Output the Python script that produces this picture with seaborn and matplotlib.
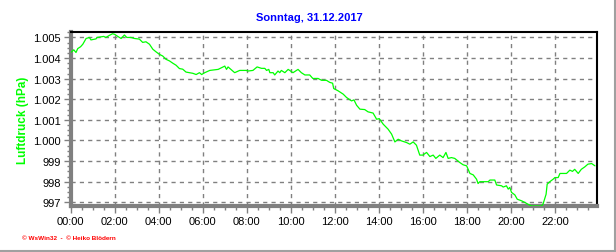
import matplotlib
matplotlib.use("Agg")
import matplotlib.pyplot as plt
from matplotlib.ticker import MultipleLocator, FixedLocator
from matplotlib.lines import Line2D
import seaborn as sns
import pandas as pd

hours = [0.0, 0.14, 0.24, 0.32, 0.45, 0.55, 0.70, 0.85, 0.92, 1.15, 1.20, 1.50, 1.60, 1.68, 1.76,
         1.90, 2.00, 2.14, 2.29, 2.44, 2.55, 2.74, 2.90, 3.12, 3.27, 3.42, 3.58, 3.73, 3.88, 4.03,
         4.18, 4.33, 4.49, 4.64, 4.79, 4.94, 5.09, 5.24, 5.39, 5.55, 5.70, 5.85, 5.95, 6.09, 6.32,
         6.70, 6.85, 7.00, 7.08, 7.15, 7.45, 7.68, 7.98, 8.05, 8.28, 8.47, 8.67, 8.82, 8.90, 9.00,
         9.05, 9.20, 9.27, 9.42, 9.50, 9.57, 9.73, 9.88, 9.95, 10.10, 10.33, 10.48, 10.64, 10.86,
         11.00, 11.24, 11.40, 11.62, 11.77, 11.90, 11.95, 12.15, 12.38, 12.53, 12.76, 12.87, 12.99,
         13.14, 13.36, 13.51, 13.74, 13.90, 14.02, 14.20, 14.42, 14.58, 14.73, 14.88, 15.03, 15.26,
         15.41, 15.56, 15.71, 15.86, 16.00, 16.17, 16.32, 16.47, 16.59, 16.77, 16.92, 17.05, 17.15,
         17.30, 17.45, 17.68, 17.83, 17.99, 18.14, 18.29, 18.44, 18.51, 18.59, 18.97, 19.05, 19.27,
         19.35, 19.58, 19.65, 19.80, 19.88, 19.95, 20.03, 20.18, 20.29, 20.49, 20.64, 20.79, 20.94,
         21.40, 21.47, 21.60, 21.65, 21.77, 21.92, 22.00, 22.15, 22.23, 22.53, 22.68, 22.80, 22.90,
         23.06, 23.20, 23.36, 23.50, 23.67, 23.82]
pressure = [1004.27, 1004.40, 1004.27, 1004.46, 1004.55, 1004.67, 1004.95, 1005.00, 1004.88, 1004.93,
            1005.00, 1005.05, 1005.00, 1005.05, 1005.10, 1005.18, 1005.15, 1005.05, 1004.95, 1005.12,
            1005.00, 1005.00, 1004.95, 1004.92, 1004.76, 1004.79, 1004.67, 1004.43, 1004.30, 1004.18,
            1004.10, 1003.94, 1003.86, 1003.75, 1003.65, 1003.49, 1003.46, 1003.32, 1003.29, 1003.26,
            1003.20, 1003.29, 1003.20, 1003.29, 1003.40, 1003.45, 1003.53, 1003.61, 1003.45, 1003.57,
            1003.29, 1003.40, 1003.40, 1003.37, 1003.40, 1003.57, 1003.50, 1003.50, 1003.40, 1003.45,
            1003.29, 1003.29, 1003.18, 1003.37, 1003.29, 1003.40, 1003.29, 1003.45, 1003.40, 1003.29,
            1003.45, 1003.29, 1003.18, 1003.18, 1003.01, 1003.01, 1002.92, 1002.92, 1002.82, 1002.78,
            1002.52, 1002.41, 1002.25, 1002.09, 1001.92, 1001.97, 1001.71, 1001.52, 1001.50, 1001.39,
            1001.33, 1001.03, 1001.06, 1000.79, 1000.55, 1000.31, 999.93, 1000.06, 999.98, 999.90,
            999.82, 999.93, 999.77, 999.29, 999.29, 999.42, 999.22, 999.29, 999.13, 999.29,
            999.17, 999.42, 999.13, 999.17, 999.13, 998.93, 998.82, 998.77, 998.40, 998.33,
            998.12, 997.91, 998.00, 998.00, 998.08, 998.08, 997.84, 997.80, 997.74, 997.80,
            997.64, 997.72, 997.48, 997.36, 997.15, 997.07, 996.99, 996.90, 996.82, 996.82,
            996.94, 997.39, 997.88, 998.00, 998.12, 998.20, 998.20, 998.40, 998.40, 998.56,
            998.50, 998.60, 998.40, 998.60, 998.72, 998.85, 998.88, 998.77]

x_ticks = [0, 2, 4, 6, 8, 10, 12, 14, 16, 18, 20, 22]
x_labels = ["00:00", "02:00", "04:00", "06:00", "08:00", "10:00", "12:00",
            "14:00", "16:00", "18:00", "20:00", "22:00"]
y_ticks = [997, 998, 999, 1000, 1001, 1002, 1003, 1004, 1005]
y_labels = ["997", "998", "999", "1.000", "1.001", "1.002", "1.003", "1.004", "1.005"]

title = "Sonntag, 31.12.2017"
ylabel = "Luftdruck (hPa)"
footer = "\u00a9 WsWin32  -  \u00a9 Heiko Blödern"

sns.set_theme(style="white")
plt.rcParams['font.family'] = ['Liberation Sans', 'DejaVu Sans']

df = pd.DataFrame({"t": hours, "p": pressure})

fig = plt.figure(figsize=(6.16, 2.53), dpi=100)
fig.patch.set_facecolor("white")
ax = fig.add_axes([70.7/616, 1-207/253, (596.7-70.7)/616, (207-33.3)/253])
sns.lineplot(data=df, x="t", y="p", ax=ax, color="#00ff00", linewidth=0.9, zorder=3)

ax.set_xlim(0, 23.9)
ax.set_ylim(996.82, 1005.25)
ax.xaxis.set_major_locator(FixedLocator(x_ticks))
ax.set_xticklabels(x_labels)
ax.xaxis.set_minor_locator(MultipleLocator(0.5))
ax.yaxis.set_major_locator(FixedLocator(y_ticks))
ax.set_yticklabels(y_labels)
ax.yaxis.set_minor_locator(MultipleLocator(0.25))
ax.tick_params(axis="both", which="major", direction="out", length=5, width=1,
               color="#808080", labelsize=8, labelcolor="black", pad=2, left=True, bottom=True)
ax.tick_params(axis="both", which="minor", direction="out", length=3, width=1,
               color="#808080", left=True, bottom=True)
ax.grid(True, which="major", color="#808080", linestyle=(0, (3, 3)), linewidth=1)
ax.set_xlabel("")
ax.set_ylabel(ylabel, color="#00ff00", fontsize=8.5, fontweight="bold", labelpad=3)
for s in ["top", "right"]:
    ax.spines[s].set_color("black")
    ax.spines[s].set_linewidth(1.5)
for s in ["left", "bottom"]:
    ax.spines[s].set_color("#808080")
    ax.spines[s].set_linewidth(3)

fig.text(309/616, 1-18/253, title, color="#0000ff", fontsize=8, fontweight="bold",
         ha="center", va="center")
fig.text(22/616, 1-239/253, footer, color="#ff0000", fontsize=4.6, fontweight="bold",
         ha="left", va="center")

fig.add_artist(Line2D([0, 615/616], [1-251.5/253, 1-251.5/253], color="#a0a0a0", linewidth=1.5,
                      transform=fig.transFigure))
fig.add_artist(Line2D([614.5/616, 614.5/616], [0, 1], color="#a0a0a0", linewidth=1.5,
                      transform=fig.transFigure))

fig.savefig("out.png", dpi=100)
